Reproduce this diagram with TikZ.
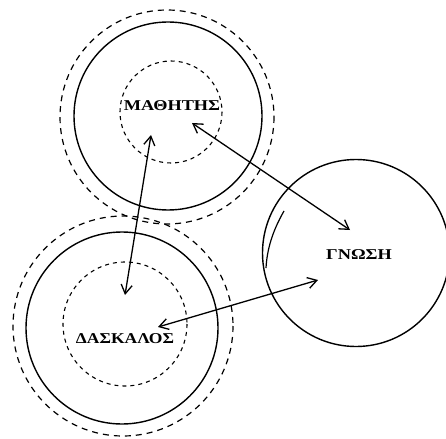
\documentclass[tikz,border=0pt]{standalone}
\usepackage{fontspec}
\setmainfont{Liberation Serif}
\usepackage{graphicx}
\usetikzlibrary{arrows.meta}
\begin{document}
\begin{tikzpicture}[x=1pt,y=-1pt,
  solidc/.style={draw=black,line width=1.4pt},
  outerd/.style={draw=black,line width=1.2pt,dash pattern=on 6pt off 5pt},
  innerd/.style={draw=black,line width=1.1pt,dash pattern=on 4pt off 4pt},
  lbl/.style={font=\bfseries\fontsize{15}{15}\selectfont,inner sep=0pt},
  link/.style={line width=1.3pt,{Straight Barb[length=9pt,width=11pt]}-{Straight Barb[length=9pt,width=11pt]}}]
\useasboundingbox (0,0) rectangle (446,438);
\begin{scope}
\clip (0,0) rectangle (446,438);
% ΜΑΘΗΤΗΣ
\draw[outerd] (167,117) circle (107);
\draw[solidc] (168,116) circle (94);
\draw[innerd] (171,112) circle (51);
\node[lbl] (m) at (172,106) {\scalebox{1.22}[1]{ΜΑΘΗΤΗΣ}};
% ΔΑΣΚΑΛΟΣ
\draw[outerd] (123,326) circle (110);
\draw[solidc] (122,328) circle (96);
\draw[innerd] (125,324) circle (62);
\node[lbl] (d) at (125,339) {\scalebox{1.17}[1]{ΔΑΣΚΑΛΟΣ}};
% ΓΝΩΣΗ
\draw[solidc] (356,253) circle (93.5);
\draw[line width=1.2pt] (284,211) .. controls (272,232) and (267,250) .. (266,268);
\node[lbl] (g) at (359,255) {\scalebox{1.22}[1]{ΓΝΩΣΗ}};
\end{scope}
% arrow end points
\coordinate (mg1) at (192,123);
\coordinate (mg2) at (350,230);
\coordinate (md1) at (151,135);
\coordinate (md2) at (125,295);
\coordinate (dg1) at (158,327);
\coordinate (dg2) at (318,280);
\draw[link] (mg1) -- (mg2);
\draw[link] (md1) -- (md2);
\draw[link] (dg1) -- (dg2);
\end{tikzpicture}
\end{document}
